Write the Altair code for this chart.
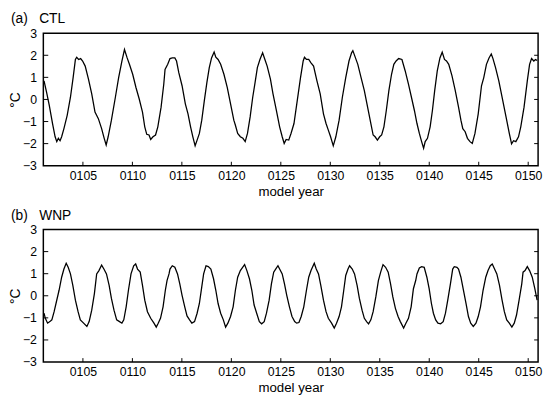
import altair as alt
import pandas as pd

# ---- Panel (a) CTL : model year, temperature anomaly (°C) ----
a_year = [101.07, 101.33, 101.60, 101.93, 102.19, 102.36, 102.52, 102.69, 102.85, 103.08,
          103.41, 103.74, 104.01, 104.24, 104.37, 104.57, 104.77, 104.97, 105.23, 105.56,
          105.89, 106.22, 106.56, 106.89, 107.15, 107.35, 107.55, 107.88, 108.28, 108.61,
          108.94, 109.20, 109.47, 109.70, 110.03, 110.36, 110.69, 111.02, 111.25, 111.45,
          111.68, 111.85, 112.08, 112.34, 112.57, 112.90, 113.17, 113.30, 113.57, 113.80,
          114.03, 114.29, 114.46, 114.69, 115.02, 115.35, 115.62, 115.88, 116.11, 116.34,
          116.54, 116.77, 117.01, 117.27, 117.53, 117.77, 118.00, 118.26, 118.43, 118.66,
          118.92, 119.25, 119.59, 119.92, 120.25, 120.41, 120.64, 120.91, 121.17, 121.40,
          121.63, 121.90, 122.16, 122.40, 122.63, 122.89, 123.16, 123.39, 123.62, 123.95,
          124.21, 124.55, 124.88, 125.14, 125.34, 125.54, 125.80, 126.03, 126.33, 126.66,
          126.99, 127.26, 127.39, 127.59, 127.82, 128.05, 128.31, 128.65, 128.98, 129.31,
          129.57, 129.80, 130.03, 130.30, 130.56, 130.89, 131.22, 131.56, 131.89, 132.15,
          132.28, 132.48, 132.78, 133.11, 133.44, 133.77, 134.10, 134.33, 134.53, 134.76,
          134.99, 135.19, 135.42, 135.66, 135.92, 136.19, 136.42, 136.65, 136.91, 137.24,
          137.57, 137.90, 138.24, 138.50, 138.76, 139.00, 139.23, 139.43, 139.59, 139.82,
          140.09, 140.32, 140.55, 140.81, 141.08, 141.31, 141.54, 141.74, 141.97, 142.30,
          142.63, 142.96, 143.20, 143.39, 143.63, 143.86, 144.12, 144.35, 144.62, 144.95,
          145.28, 145.51, 145.78, 146.04, 146.27, 146.44, 146.70, 147.03, 147.36, 147.76,
          148.09, 148.32, 148.52, 148.75, 149.02, 149.25, 149.58, 149.91, 150.14, 150.34,
          150.57, 150.74, 150.90]
a_val = [0.84, 0.32, -0.27, -1.09, -1.69, -1.91, -1.76, -1.87, -1.69, -1.32,
         -0.72, 0.10, 0.99, 1.81, 1.91, 1.81, 1.85, 1.74, 1.51, 0.92,
         0.25, -0.57, -0.87, -1.32, -1.76, -2.06, -1.69, -0.94, 0.10, 0.99,
         1.74, 2.26, 1.88, 1.59, 1.14, 0.54, 0.02, -0.57, -1.24, -1.58,
         -1.61, -1.81, -1.69, -1.61, -1.24, -0.35, 0.69, 1.36, 1.59, 1.85,
         1.88, 1.88, 1.74, 1.21, 0.62, -0.20, -0.65, -1.24, -1.69, -2.10,
         -1.84, -1.54, -0.94, -0.05, 0.77, 1.44, 1.88, 2.15, 1.91, 1.81,
         1.59, 1.14, 0.54, -0.20, -0.94, -1.17, -1.54, -1.69, -1.76, -1.91,
         -1.54, -0.79, 0.10, 0.77, 1.44, 1.81, 2.11, 1.81, 1.51, 0.92,
         0.25, -0.50, -1.24, -1.69, -1.99, -1.81, -1.84, -1.54, -1.09, -0.05,
         0.99, 1.74, 1.91, 1.81, 1.81, 1.66, 1.51, 0.84, 0.25, -0.65,
         -1.09, -1.39, -1.69, -2.10, -1.69, -0.94, 0.10, 0.99, 1.74, 2.11,
         2.21, 1.96, 1.59, 0.99, 0.40, -0.35, -1.09, -1.61, -1.69, -1.84,
         -1.69, -1.61, -1.24, -0.50, 0.40, 1.14, 1.59, 1.74, 1.85, 1.81,
         1.29, 0.69, 0.02, -0.50, -1.09, -1.54, -1.91, -2.21, -1.91, -1.76,
         -1.24, -0.50, 0.40, 1.29, 1.88, 2.14, 1.81, 1.74, 1.59, 1.07,
         0.40, -0.35, -0.94, -1.32, -1.46, -1.76, -1.91, -1.99, -1.54, -0.65,
         0.62, 0.99, 1.59, 1.88, 2.06, 1.85, 1.44, 0.84, 0.10, -0.79,
         -1.54, -2.01, -1.87, -1.91, -1.69, -1.24, -0.35, 0.84, 1.59, 1.85,
         1.74, 1.81, 1.76]

# ---- Panel (b) WNP ----
b_year = [101.07, 101.20, 101.43, 101.66, 101.86, 102.09, 102.32, 102.59, 102.85, 103.08,
          103.31, 103.51, 103.74, 103.98, 104.24, 104.51, 104.74, 105.07, 105.40, 105.63,
          105.89, 106.16, 106.39, 106.62, 106.89, 107.12, 107.38, 107.65, 107.88, 108.14,
          108.41, 108.70, 108.94, 109.13, 109.37, 109.60, 109.86, 110.13, 110.33, 110.52,
          110.79, 111.02, 111.25, 111.52, 111.85, 112.18, 112.41, 112.61, 112.84, 113.10,
          113.33, 113.50, 113.70, 113.80, 114.03, 114.29, 114.56, 114.79, 115.02, 115.29,
          115.52, 115.78, 116.01, 116.28, 116.54, 116.77, 117.01, 117.20, 117.44, 117.67,
          117.93, 118.20, 118.43, 118.66, 118.92, 119.19, 119.42, 119.65, 119.92, 120.18,
          120.41, 120.64, 120.91, 121.14, 121.34, 121.57, 121.83, 122.07, 122.30, 122.56,
          122.83, 123.06, 123.32, 123.55, 123.82, 124.05, 124.28, 124.48, 124.71, 124.88,
          125.14, 125.37, 125.60, 125.87, 126.13, 126.40, 126.60, 126.83, 127.06, 127.32,
          127.59, 127.82, 128.05, 128.38, 128.58, 128.81, 129.04, 129.31, 129.57, 129.80,
          130.13, 130.40, 130.63, 130.89, 131.13, 131.36, 131.56, 131.79, 131.95, 132.22,
          132.45, 132.71, 132.94, 133.21, 133.44, 133.67, 133.87, 134.10, 134.33, 134.60,
          134.86, 135.09, 135.33, 135.59, 135.85, 136.09, 136.32, 136.58, 136.85, 137.08,
          137.41, 137.64, 137.90, 138.17, 138.40, 138.63, 138.76, 139.00, 139.23, 139.49,
          139.76, 139.99, 140.22, 140.42, 140.65, 140.88, 141.15, 141.41, 141.64, 141.87,
          142.14, 142.37, 142.53, 142.80, 142.96, 143.20, 143.46, 143.72, 143.96, 144.19,
          144.45, 144.72, 144.95, 145.18, 145.44, 145.71, 145.94, 146.17, 146.37, 146.60,
          146.83, 147.10, 147.36, 147.59, 147.83, 148.09, 148.35, 148.59, 148.82, 149.08,
          149.35, 149.48, 149.68, 149.91, 150.14, 150.41, 150.67, 150.90]
b_val = [-0.79, -1.02, -1.24, -1.17, -1.09, -0.72, -0.27, 0.25, 0.84, 1.21,
         1.47, 1.29, 0.99, 0.47, -0.20, -0.72, -1.09, -1.24, -1.39, -1.17,
         -0.65, 0.10, 0.99, 1.14, 1.39, 1.21, 0.99, 0.47, -0.12, -0.65,
         -1.09, -1.17, -1.24, -1.09, -0.50, 0.25, 0.99, 1.36, 1.44, 1.21,
         1.07, 0.47, -0.20, -0.72, -1.02, -1.24, -1.42, -1.24, -1.02, -0.50,
         0.25, 0.69, 0.99, 1.21, 1.36, 1.29, 0.99, 0.54, 0.02, -0.50,
         -0.91, -1.09, -1.24, -1.17, -0.79, -0.35, 0.40, 0.99, 1.36, 1.32,
         1.21, 0.77, 0.25, -0.35, -0.79, -1.09, -1.42, -1.24, -0.94, -0.50,
         0.25, 0.84, 1.14, 1.29, 1.41, 1.14, 0.77, 0.25, -0.42, -0.79,
         -1.17, -1.27, -1.17, -0.79, -0.20, 0.54, 1.07, 1.21, 1.36, 1.21,
         0.99, 0.54, 0.02, -0.50, -0.94, -1.17, -1.24, -1.21, -0.94, -0.50,
         0.25, 0.84, 1.14, 1.47, 1.21, 0.99, 0.47, -0.20, -0.72, -1.02,
         -1.24, -1.46, -1.24, -0.94, -0.50, 0.25, 0.92, 1.21, 1.36, 1.21,
         0.99, 0.47, -0.12, -0.65, -1.02, -1.17, -1.27, -1.09, -0.72, -0.05,
         0.69, 1.07, 1.41, 1.29, 1.07, 0.54, -0.05, -0.57, -0.94, -1.17,
         -1.46, -1.24, -1.02, -0.50, 0.32, 0.69, 0.99, 1.26, 1.32, 1.29,
         0.84, 0.32, -0.35, -0.79, -1.09, -1.24, -1.27, -1.17, -0.79, -0.20,
         0.54, 1.21, 1.32, 1.29, 1.21, 0.84, 0.25, -0.35, -0.94, -1.24,
         -1.39, -1.24, -0.94, -0.50, 0.25, 0.84, 1.14, 1.36, 1.44, 1.21,
         0.99, 0.47, -0.20, -0.72, -1.09, -1.24, -1.42, -1.24, -0.87, -0.20,
         0.54, 1.07, 1.14, 1.32, 1.14, 0.84, 0.32, -0.20]

y_ticks = [-3, -2, -1, 0, 1, 2, 3]
x_ticks = [105, 110, 115, 120, 125, 130, 135, 140, 145, 150]
x_domain = [101, 151]
y_domain = [-3, 3]

FONT = "Liberation Sans"
W, H = 504, 135

X_AXIS = alt.Axis(values=x_ticks, title="model year", labelExpr="'0' + datum.value",
                  ticks=False, tickSize=0, domain=False, grid=False,
                  labelPadding=4, titlePadding=3, labelFontSize=12.5,
                  titleFontSize=13.5, titleFontWeight="normal", labelOverlap=False,
                  labelColor="black", titleColor="black", labelFont=FONT, titleFont=FONT)
Y_AXIS = alt.Axis(values=y_ticks, title="°C", ticks=False, tickSize=0, domain=False,
                  grid=False, labelPadding=7, labelFontSize=12.5, labelOverlap=False,
                  titleFontSize=14, titleFontWeight="normal", titleX=-21,
                  labelColor="black", titleColor="black", labelFont=FONT, titleFont=FONT)


def panel(years, vals, title):
    df = pd.DataFrame({"year": years, "val": vals})
    xs = alt.Scale(domain=x_domain, nice=False, zero=False)
    ys = alt.Scale(domain=y_domain, nice=False, zero=False)
    line = alt.Chart(df).mark_line(color="black", strokeWidth=1.3, clip=True).encode(
        x=alt.X("year:Q", scale=xs, axis=X_AXIS),
        y=alt.Y("val:Q", scale=ys, axis=Y_AXIS),
    )
    ytk = alt.Chart(pd.DataFrame({"year": [x_domain[0]] * 5, "val": y_ticks[1:-1]})).mark_rule(
        color="black", strokeWidth=1).encode(
        y=alt.Y("val:Q", scale=ys, axis=Y_AXIS), x=alt.value(0), x2=alt.value(5))
    ytk_r = alt.Chart(pd.DataFrame({"year": [x_domain[1]] * 5, "val": y_ticks[1:-1]})).mark_rule(
        color="black", strokeWidth=1).encode(
        y=alt.Y("val:Q", scale=ys, axis=Y_AXIS), x=alt.value(W - 4), x2=alt.value(W))
    xtk = alt.Chart(pd.DataFrame({"year": x_ticks})).mark_rule(color="black", strokeWidth=1).encode(
        x=alt.X("year:Q", scale=xs, axis=X_AXIS), y=alt.value(H), y2=alt.value(H - 4))
    return alt.layer(line, ytk, ytk_r, xtk).properties(
        width=W, height=H,
        title=alt.TitleParams(title, anchor="start", fontSize=14, fontWeight="normal",
                              font=FONT, color="black", offset=1, dx=2),
    )


chart = alt.vconcat(
    panel(a_year, a_val, "(a)\u00a0\u00a0\u00a0CTL"),
    panel(b_year, b_val, "(b)\u00a0\u00a0\u00a0WNP"),
    spacing=9,
).properties(
    padding={"left": 0, "top": 0, "right": 0, "bottom": 0},
    background="white",
).configure_view(
    stroke="black", strokeWidth=1.5
).configure_axis(
    labelOverlap=False
)

chart.save("out.html", embed_options={"renderer": "svg", "actions": False})
